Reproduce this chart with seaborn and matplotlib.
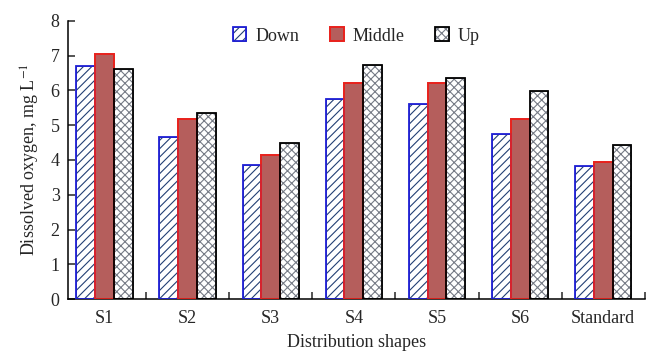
import pandas as pd
import seaborn as sns
import matplotlib.pyplot as plt
import matplotlib.ticker as ticker
from matplotlib.patches import Rectangle
from matplotlib.legend_handler import HandlerTuple

shapes = ["S1", "S2", "S3", "S4", "S5", "S6", "Standard"]
positions = ["Down", "Middle", "Up"]
down = [6.70, 4.67, 3.86, 5.74, 5.62, 4.75, 3.84]
middle = [7.04, 5.18, 4.14, 6.22, 6.22, 5.18, 3.94]
up = [6.62, 5.34, 4.48, 6.72, 6.36, 5.98, 4.43]

df = pd.DataFrame({
    "shape": shapes * 3,
    "position": ["Down"] * 7 + ["Middle"] * 7 + ["Up"] * 7,
    "DO": down + middle + up,
})

sns.set_style("ticks")
plt.rcParams["font.family"] = ["Liberation Serif", "DejaVu Serif"]
plt.rcParams["mathtext.fontset"] = "stix"
plt.rcParams["font.size"] = 13
plt.rcParams["hatch.linewidth"] = 0.8

fig, ax = plt.subplots(figsize=(6.48, 3.52), dpi=100)
fig.subplots_adjust(left=0.105, right=0.995, bottom=0.15, top=0.941)

sns.barplot(data=df, x="shape", y="DO", hue="position", order=shapes,
            hue_order=positions, width=0.68, palette=["white", "#c4504d", "white"],
            legend=False, ax=ax)

# hatch colour follows the edge colour, so draw the outline as a second patch
styles = {
    "Down": dict(hatch="////", hatch_col="#233f74", edge="#1f1fd6"),
    "Middle": dict(hatch="", hatch_col="#e8231e", edge="#e8231e"),
    "Up": dict(hatch="xxxx", hatch_col="#767b86", edge="black"),
}
handles = []
for cont, pos in zip(ax.containers, positions):
    st = styles[pos]
    outline = None
    for bar in cont:
        bar.set_hatch(st["hatch"])
        bar.set_edgecolor(st["hatch_col"])
        bar.set_linewidth(0.6 if st["hatch"] else 1.3)
        outline = Rectangle(bar.get_xy(), bar.get_width(), bar.get_height(),
                            fill=False, edgecolor=st["edge"], linewidth=1.3, zorder=3)
        ax.add_patch(outline)
    handles.append((cont[0], outline))

ax.legend(handles, positions, handler_map={tuple: HandlerTuple(ndivide=1)},
          loc="center", bbox_to_anchor=(0.5, 0.946), ncol=3, frameon=False,
          handlelength=0.75, handleheight=0.85, handletextpad=0.5,
          columnspacing=1.7, fontsize=13)

ax.set_ylim(0, 8)
ax.set_xlim(-0.44, 6.5)
ax.yaxis.set_major_locator(ticker.MultipleLocator(1))
ax.xaxis.set_minor_locator(ticker.FixedLocator([i + 0.5 for i in range(7)]))
ax.tick_params(axis="y", direction="in", length=5, width=1.1, labelsize=13, pad=6)
ax.tick_params(axis="x", which="major", length=0, labelsize=13, pad=8)
ax.tick_params(axis="x", which="minor", direction="in", length=5, width=1.1)
sns.despine(ax=ax)
for s in ["left", "bottom"]:
    ax.spines[s].set_linewidth(1.1)
    ax.spines[s].set_color("black")

ax.set_xlabel("Distribution shapes", fontsize=13, labelpad=5)
ax.set_ylabel("Dissolved oxygen, mg L$^{-1}$", fontsize=13, labelpad=6)

plt.savefig("out.png", dpi=100)
